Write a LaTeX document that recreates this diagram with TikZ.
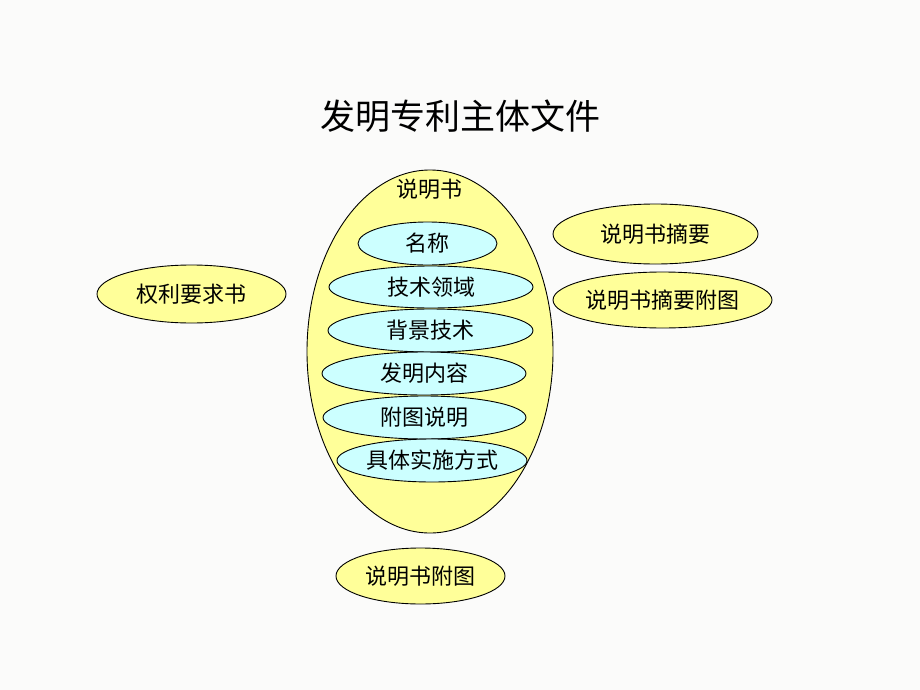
\documentclass[tikz,border=0pt]{standalone}
\usepackage{fontspec}
\setmainfont{Noto Sans CJK SC}
\usetikzlibrary{shapes.geometric}
\definecolor{bgcream}{RGB}{251,251,250}
\definecolor{ylw}{RGB}{255,255,153}
\definecolor{cyn}{RGB}{204,255,255}
\tikzset{
  ov/.style={ellipse, draw=black, line width=0.9pt, inner sep=0pt, font=\fontsize{22}{22}\selectfont},
  yov/.style={ov, fill=ylw},
  cov/.style={ov, fill=cyn},
}
\begin{document}
\begin{tikzpicture}[x=1pt,y=-1pt]
\fill[bgcream] (0,0) rectangle (920,690);
\useasboundingbox (0,0) rectangle (920,690);
\node (title) at (460,116) {\fontsize{35}{35}\selectfont 发明专利主体文件};
\node[yov, minimum width=246pt, minimum height=363pt] (big) at (430,351.5) {};
\node (bigl) at (429,189) {\fontsize{22}{22}\selectfont 说明书};
\node[cov, minimum width=139pt, minimum height=43pt] (n1) at (427.5,243.5) {名称};
\node[cov, minimum width=204pt, minimum height=42pt] (n2) at (431,287) {技术领域};
\node[cov, minimum width=205pt, minimum height=43pt] (n3) at (430.5,330.5) {背景技术};
\node[cov, minimum width=204pt, minimum height=43pt] (n4) at (424,373.5) {发明内容};
\node[cov, minimum width=203pt, minimum height=43pt] (n5) at (424.5,417.5) {附图说明};
\node[cov, minimum width=190pt, minimum height=43pt] (n6) at (432,460.5) {具体实施方式};
\node[yov, minimum width=205pt, minimum height=60pt] (r1) at (655.5,234) {说明书摘要};
\node[yov, minimum width=219pt, minimum height=56pt] (r2) at (662.5,300) {说明书摘要附图};
\node[yov, minimum width=189pt, minimum height=58pt] (l1) at (191.5,294) {权利要求书};
\node[yov, minimum width=169pt, minimum height=56pt] (b1) at (420.5,576) {说明书附图};
\end{tikzpicture}
\end{document}
